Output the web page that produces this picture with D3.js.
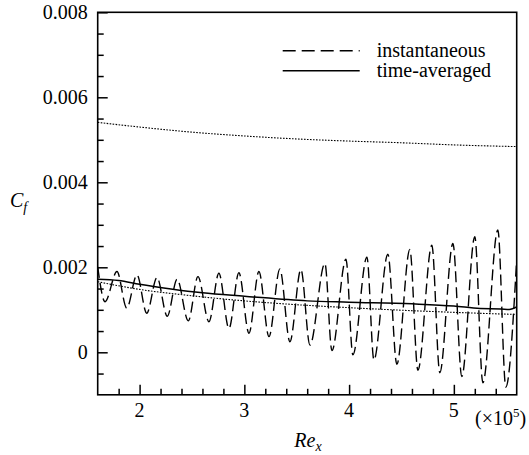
<!DOCTYPE html>
<html>
<head>
<meta charset="utf-8">
<script src="https://cdn.jsdelivr.net/npm/d3@7"></script>
</head>
<body style="margin:0">
<script>
// instantaneous Cf (dashed), peaks and troughs
const reInst = [1.600, 1.670, 1.784, 1.877, 1.975, 2.068, 2.166, 2.264, 2.358, 2.465,
  2.557, 2.662, 2.757, 2.853, 2.948, 3.044, 3.139, 3.235, 3.339, 3.435,
  3.540, 3.626, 3.769, 3.836, 3.970, 4.036, 4.170, 4.237, 4.370, 4.456,
  4.580, 4.657, 4.790, 4.866, 4.991, 5.076, 5.200, 5.277, 5.420, 5.496, 5.598];
const cfInst = [0.00201, 0.00119, 0.00190, 0.00104, 0.00182, 0.00092, 0.00176, 0.00085, 0.00172, 0.00074,
  0.00178, 0.00072, 0.00186, 0.00056, 0.00187, 0.00045, 0.00190, 0.00037, 0.00196, 0.00025,
  0.00195, 0.00017, 0.00209, 0.00004, 0.00219, -0.00006, 0.00224, -0.00018, 0.00231, -0.00028,
  0.00242, -0.00042, 0.00252, -0.00048, 0.00256, -0.00057, 0.00272, -0.00072, 0.00288, -0.00082, 0.00210];

// time-averaged Cf (solid)
const reAvg = [1.6, 1.8, 2.0, 2.3, 2.6, 3.0, 3.6, 4.0, 4.6, 5.0, 5.25, 5.45, 5.53, 5.6];
const cfAvg = [0.00172, 0.00169, 0.00160, 0.00149, 0.00140, 0.00132, 0.00121, 0.00118, 0.00114,
  0.00109, 0.00103, 0.00102, 0.00101, 0.00107];

// reference curves (dotted): turbulent (upper) and laminar (lower)
const reRef = [1.6, 2.0, 2.5, 3.0, 3.5, 4.0, 4.5, 5.0, 5.6];
const cfTurb = [0.00541, 0.00530, 0.00518, 0.00509, 0.00502, 0.00497, 0.00493, 0.00488, 0.00484];
const cfLam = [0.00166, 0.00148, 0.00133, 0.00121, 0.00112, 0.00105, 0.00099, 0.00094, 0.00089];

const xTicks = [2, 3, 4, 5];
const xTickLabels = ['2', '3', '4', '5'];
const xMinor = [1.8, 2.2, 2.4, 2.6, 2.8, 3.2, 3.4, 3.6, 3.8, 4.2, 4.4, 4.6, 4.8, 5.2, 5.4];
const yTicks = [0, 0.002, 0.004, 0.006, 0.008];
const yTickLabels = ['0', '0.002', '0.004', '0.006', '0.008'];
const yMinor = [-0.0005, 0.0005, 0.001, 0.0015, 0.0025, 0.003, 0.0035, 0.0045, 0.005, 0.0055,
  0.0065, 0.007, 0.0075];

const legendItems = [
  { label: 'instantaneous', dash: '13,6' },
  { label: 'time-averaged', dash: null },
];

const serif = 'Liberation Serif';
const width = 529;
const height = 455;
const margin = { top: 12.3, right: 12.3, bottom: 60.2, left: 97.7 };
const innerWidth = width - margin.left - margin.right;
const innerHeight = height - margin.top - margin.bottom;

const xScale = d3.scaleLinear().domain([1.6, 5.6]).range([0, innerWidth]);
const yScale = d3.scaleLinear().domain([-0.001, 0.008]).range([innerHeight, 0]);

const svg = d3.select('body').append('svg')
  .attr('width', width).attr('height', height).style('display', 'block');
const g = svg.append('g').attr('transform', `translate(${margin.left},${margin.top})`);

svg.append('defs').append('clipPath').attr('id', 'plot')
  .append('rect').attr('width', innerWidth).attr('height', innerHeight);

const line = d3.line()
  .x((d) => xScale(d[0]))
  .y((d) => yScale(d[1]))
  .curve(d3.curveMonotoneX);

const zip = (xs, ys) => xs.map((x, i) => [x, ys[i]]);

const curves = g.append('g').attr('clip-path', 'url(#plot)');

curves.append('path').datum(zip(reRef, cfTurb))
  .attr('d', line).attr('fill', 'none').attr('stroke', '#000')
  .attr('stroke-width', 1.1).attr('stroke-dasharray', '1.6,1.4');
curves.append('path').datum(zip(reRef, cfLam))
  .attr('d', line).attr('fill', 'none').attr('stroke', '#000')
  .attr('stroke-width', 1.1).attr('stroke-dasharray', '1.6,1.4');
curves.append('path').datum(zip(reAvg, cfAvg))
  .attr('d', line).attr('fill', 'none').attr('stroke', '#000')
  .attr('stroke-width', 1.5);
curves.append('path').datum(zip(reInst, cfInst))
  .attr('d', line).attr('fill', 'none').attr('stroke', '#000')
  .attr('stroke-width', 1.4).attr('stroke-dasharray', '11,5');

// ticks point inward, labels drawn separately
const xAxis = g.append('g').attr('transform', `translate(0,${innerHeight})`)
  .call(d3.axisBottom(xScale).tickValues(xTicks).tickFormat('').tickSize(-10));
const xAxisMinor = g.append('g').attr('transform', `translate(0,${innerHeight})`)
  .call(d3.axisBottom(xScale).tickValues(xMinor).tickFormat('').tickSize(-6));
const yAxis = g.append('g')
  .call(d3.axisLeft(yScale).tickValues(yTicks).tickFormat('').tickSize(-10));
const yAxisMinor = g.append('g')
  .call(d3.axisLeft(yScale).tickValues(yMinor).tickFormat('').tickSize(-6));

[xAxis, xAxisMinor, yAxis, yAxisMinor].forEach((a) => {
  a.select('.domain').remove();
  a.selectAll('text').remove();
  a.selectAll('line').attr('stroke', '#000').attr('stroke-width', 1.5);
});

g.selectAll('text.xlab').data(xTicks).enter().append('text')
  .attr('class', 'xlab')
  .attr('font-family', serif).attr('font-size', 20)
  .attr('text-anchor', 'middle')
  .attr('x', (d) => xScale(d)).attr('y', innerHeight + 22)
  .text((d, i) => xTickLabels[i]);

g.selectAll('text.ylab').data(yTicks).enter().append('text')
  .attr('class', 'ylab')
  .attr('font-family', serif).attr('font-size', 20)
  .attr('text-anchor', 'end')
  .attr('x', -10).attr('y', (d) => yScale(d) + 6.5)
  .text((d, i) => yTickLabels[i]);

g.append('rect').attr('width', innerWidth).attr('height', innerHeight)
  .attr('fill', 'none').attr('stroke', '#000').attr('stroke-width', 1.6);

// legend
const legend = g.append('g').attr('transform', 'translate(185,38.4)');
legendItems.forEach((item, i) => {
  const row = legend.append('g').attr('transform', `translate(0,${i * 20})`);
  row.append('line').attr('x1', 0).attr('x2', 77)
    .attr('stroke', '#000').attr('stroke-width', 1.4)
    .attr('stroke-dasharray', item.dash);
  row.append('text').attr('x', 94).attr('y', 6)
    .attr('font-family', serif).attr('font-size', 20).text(item.label);
});

// axis titles
const xTitle = svg.append('text').attr('x', 308).attr('y', 447)
  .attr('font-family', serif).attr('text-anchor', 'middle')
  .attr('font-size', 20).attr('font-style', 'italic');
xTitle.append('tspan').text('Re');
xTitle.append('tspan').attr('font-size', 14).attr('dy', 4).text('x');

const yTitle = svg.append('text').attr('x', 10).attr('y', 207)
  .attr('font-family', serif).attr('font-size', 20).attr('font-style', 'italic');
yTitle.append('tspan').text('C');
yTitle.append('tspan').attr('font-size', 14).attr('dy', 5).text('f');

const scaleNote = svg.append('text').attr('x', 475).attr('y', 425)
  .attr('font-family', serif).attr('font-size', 20);
scaleNote.append('tspan').text('(\u00d710');
scaleNote.append('tspan').attr('font-size', 13).attr('dy', -8).text('5');
scaleNote.append('tspan').attr('dy', 8).text(')');
</script>
</body>
</html>
